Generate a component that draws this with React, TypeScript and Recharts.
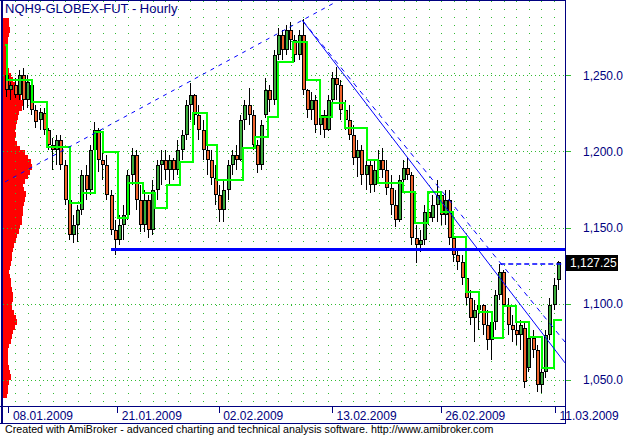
import React from 'react';
import { ComposedChart, BarChart, Bar, Line, XAxis, YAxis, CartesianGrid, ReferenceLine } from 'recharts';

const W = 626;
const H = 437;
const NAVY = '#000080';
const FONT = "'Liberation Sans', Arial, Helvetica, sans-serif";
const GRID = '#33bb33';
const UP = '#3aaa3a';
const DOWN = '#f0642d';

// ---- hourly bars (x = bar index) ----
const opens = [
  1250.25, 1240.5, 1243.75, 1237, 1250.25, 1233.75, 1243.75, 1227.25, 1220.75, 1225.25,
  1214, 1204.25, 1201, 1207.5, 1191, 1168, 1145.25, 1151.75, 1161.5, 1184.5,
  1174.75, 1201, 1214, 1194.5, 1191, 1171.5, 1148.5, 1142, 1151.75, 1158.25,
  1184.5, 1197.75, 1168, 1151.75, 1168, 1148.5, 1174.75, 1191, 1194.5, 1187.75,
  1194.5, 1187.75, 1201, 1210.75, 1230.5, 1237, 1224, 1214, 1201, 1194.5,
  1182.5, 1171.5, 1161.5, 1174.75, 1191, 1197.75, 1194.5, 1220.75, 1230.5, 1224,
  1204.25, 1191, 1224, 1240.5, 1233.75, 1263.25, 1276.5, 1266.5, 1279.75, 1273.25,
  1263.25, 1276.5, 1240.5, 1227.25, 1233.75, 1217.5, 1224, 1214, 1233.75, 1248.25,
  1243.75, 1227.25, 1220.75, 1210.75, 1195.75, 1201, 1184.5, 1191, 1178, 1187.75,
  1194.5, 1187.75, 1176, 1165, 1155, 1181.25, 1189.25, 1184.5, 1143.25, 1138.5,
  1142, 1160.25, 1156.25, 1165, 1171.5, 1158.25, 1168, 1143.25, 1132, 1127.5,
  1117, 1103.75, 1090.75, 1096, 1099.25, 1086, 1076.25, 1088, 1105.75, 1121,
  1099.25, 1086, 1082.75, 1079.5, 1084, 1057.75, 1077.5, 1069.75, 1046.75, 1055.25,
  1079.5, 1099.25, 1115.5,
];
const highs = [
  1254.75, 1245.5, 1248.25, 1253.5, 1254.75, 1250.25, 1247, 1230.5, 1228.5, 1228.5,
  1215.5, 1209, 1210.75, 1210.75, 1194.5, 1174.75, 1158.25, 1165, 1187.75, 1191,
  1204.25, 1219.5, 1215.5, 1201, 1197.75, 1174.75, 1155, 1158.25, 1165, 1187.75,
  1202.25, 1201, 1178, 1174.75, 1171.5, 1181.25, 1194.5, 1201, 1201, 1197.75,
  1195.75, 1207.5, 1214, 1233.75, 1245, 1238, 1230.5, 1220.75, 1207.5, 1201,
  1191, 1178, 1181.25, 1194.5, 1201, 1204.25, 1224, 1233.75, 1241.75, 1227.25,
  1207.5, 1220.75, 1248.25, 1243.75, 1266.5, 1281, 1279.75, 1283, 1285, 1276.5,
  1279.75, 1287, 1241, 1239, 1237, 1228.5, 1227.25, 1237, 1252.25, 1255.5,
  1247, 1233.75, 1230.5, 1217.5, 1207.5, 1204.25, 1197.75, 1194.5, 1194.5, 1201,
  1202.25, 1194.5, 1184.5, 1174.75, 1184.5, 1194.5, 1195.75, 1186.5, 1151.75, 1148.5,
  1165, 1168, 1171.5, 1181.25, 1173.5, 1174.75, 1174.75, 1151.75, 1135.25, 1132,
  1122.25, 1109, 1102.5, 1103.75, 1100, 1096, 1090.75, 1109, 1126, 1122.25,
  1103.75, 1092.5, 1089.5, 1089.5, 1088, 1082.75, 1082.75, 1073, 1059.75, 1082.75,
  1103.75, 1117, 1128,
];
const lows = [
  1235.75, 1233.75, 1235, 1233.75, 1227.25, 1228.5, 1224, 1215.5, 1214, 1210.75,
  1201, 1187.75, 1191, 1187.75, 1165, 1142, 1140, 1140.5, 1158.25, 1168,
  1171.5, 1194.5, 1186.5, 1181.25, 1168, 1145.25, 1132, 1138.5, 1142, 1155,
  1178, 1161.5, 1147, 1147, 1143.25, 1145.25, 1168, 1178, 1181.25, 1178,
  1181.25, 1184.5, 1194.5, 1207.5, 1220.75, 1217.5, 1207.5, 1194.5, 1184.5, 1178,
  1165, 1153.75, 1153.75, 1168, 1184.5, 1187.75, 1194, 1214, 1217.5, 1201,
  1186, 1187.75, 1222, 1226, 1230.5, 1260, 1260, 1263.25, 1266.5, 1258.75,
  1260, 1237, 1222, 1220.75, 1212, 1210.75, 1209, 1213.5, 1227.25, 1233.75,
  1220.75, 1214, 1207.5, 1191, 1183.25, 1178, 1174.75, 1172.75, 1173.5, 1181.25,
  1182.5, 1171.5, 1158.25, 1150.5, 1153.75, 1176, 1181.25, 1138.5, 1126.75, 1134,
  1138.5, 1151.75, 1153.75, 1153.75, 1151.75, 1151.75, 1138.5, 1127.5, 1122.25, 1112.25,
  1099.25, 1086, 1075, 1082.75, 1079.5, 1069.75, 1063, 1082.75, 1102.5, 1092.5,
  1079.5, 1075, 1073, 1069.75, 1044.75, 1055.25, 1064.5, 1042, 1041.5, 1051.25,
  1076.25, 1096, 1109,
];
const closes = [
  1240.5, 1243.75, 1237, 1250.25, 1233.75, 1245.5, 1227.25, 1219.5, 1226, 1214,
  1204.25, 1201, 1207.5, 1191, 1168, 1145.25, 1151.75, 1161.5, 1184.5, 1174.75,
  1201, 1214, 1194.5, 1191, 1171.5, 1148.5, 1142, 1151.75, 1158.25, 1184.5,
  1197.75, 1168, 1151.75, 1168, 1148.5, 1174.75, 1191, 1194.5, 1187.75, 1194.5,
  1187.75, 1201, 1210.75, 1230.5, 1237, 1224, 1214, 1201, 1194.5, 1182.5,
  1171.5, 1161.5, 1174.75, 1191, 1197.75, 1194.5, 1220.75, 1230.5, 1224, 1204.25,
  1191, 1217.5, 1240.5, 1233.75, 1263.25, 1276.5, 1266.5, 1279.75, 1273.25, 1263.25,
  1276.5, 1240.5, 1227.25, 1233.75, 1217.5, 1224, 1214, 1233.75, 1248.25, 1243.75,
  1227.25, 1220.75, 1210.75, 1195.75, 1201, 1184.5, 1191, 1178, 1187.75, 1194.5,
  1187.75, 1176, 1165, 1155, 1181.25, 1189.25, 1184.5, 1143.25, 1138.5, 1142,
  1160.25, 1156.25, 1165, 1171.5, 1158.25, 1168, 1143.25, 1132, 1127.5, 1117,
  1103.75, 1090.75, 1096, 1099.25, 1086, 1076.25, 1088, 1105.75, 1121, 1099.25,
  1086, 1082.75, 1079.5, 1086, 1048.75, 1077.5, 1069.75, 1046.75, 1055.25, 1079.5,
  1099.25, 1112.25, 1127.25,
];

// ---- axes ----
const barDomain: [number, number] = [-1, 133.5];
const priceDomain: [number, number] = [1032.9, 1298.8];
const priceTicks = [1050, 1100, 1150, 1200, 1250];
const dateTickPos = [0.3, 26.35, 50.62, 77.74, 103.75, 131.11];
const dateTickLabels = ['08.01.2009', '21.01.2009', '02.02.2009', '13.02.2009', '26.02.2009', '11.03.2009'];
const gridFirst = 1.87;
const gridEvery = 3;
const gridCount = 44;

// ---- green step level (breakpoint bar position, level) ----
const stepPos = [
  -0.52, -0.04, 5.94, 9.53, 15.03, 17.91, 21.02, 22.93, 26.52, 28.92, 32.51, 35.38, 38.25, 41.36,
  44.47, 47.82, 50.22, 56.44, 59.31, 62.42, 64.81, 68.4, 71.75, 74.87, 77.74, 80.85, 86.12, 88.75,
  94.73, 97.6, 100.71, 103.82, 106.7, 109.81, 112.92, 116.03, 118.66, 121.77, 124.89, 128.0, 130.87, 132.78,
];
const stepLevel = [
  1269.9, 1246.9, 1232.5, 1202.9, 1166.2, 1172.7, 1212.8, 1199.7, 1156.3, 1179.3, 1172.7, 1162.9, 1178.0, 1193.1,
  1225.3, 1204.3, 1181.3, 1202.3, 1209.5, 1222.6, 1258.8, 1271.9, 1246.9, 1222.6, 1231.8, 1215.4, 1194.4, 1179.3,
  1173.4, 1153.0, 1173.4, 1160.3, 1143.9, 1107.7, 1094.6, 1077.5, 1098.5, 1088.0, 1078.2, 1057.8, 1089.4, 1089.4,
];

// ---- volume at price profile (3-point bins from 1286 downward) ----
const profileTop = 1286;
const profileStep = 3;
const profileVolume = [
  60, 60, 70, 60, 50, 50, 40, 40, 50, 40,
  50, 60, 80, 100, 120, 140, 150, 180, 200, 190,
  160, 150, 140, 130, 120, 130, 120, 140, 170, 220,
  250, 280, 290, 270, 250, 220, 200, 210, 230, 220,
  210, 200, 200, 190, 190, 170, 160, 140, 130, 110,
  100, 90, 90, 80, 70, 60, 70, 80, 80, 90,
  100, 100, 90, 90, 110, 130, 140, 120, 100, 90,
  80, 60, 50, 50, 50, 50, 60, 70, 80, 60,
  50, 50, 40,
];
const profileMax = 5620;

// ---- trend lines ----
const risingRay = [{ x: -0.52, y: 1180.0 }, { x: 78.9, y: 1298.5 }];
const fallingLine = [{ x: 70.57, y: 1286.3 }, { x: 133.5, y: 1061.2 }];
const fallingDashed = [{ x: 70.8, y: 1285.6 }, { x: 133.5, y: 1074.9 }];
const supportLine = [{ x: 24.85, y: 1135.7 }, { x: 133.5, y: 1135.7 }];
const resistDashed = [{ x: 118, y: 1126.1 }, { x: 132.6, y: 1126.1 }];
const lastClose = 1127.25;

const candles = opens.map((o, i) => ({ i, o, h: highs[i], l: lows[i], c: closes[i] }));
const stepData = stepPos.map((i, k) => ({ i, g: stepLevel[k] }));
const profileData = profileVolume.map((v, k) => ({ p: profileTop - k * profileStep, v }));
const gridDays: number[] = [];
for (let k = 0; k < gridCount; k++) gridDays.push(gridFirst + k * gridEvery);

const withCommas = (s: string) => s.replace(/\B(?=(\d{3})+(?!\d))/g, ',');
const fmtPrice = (v: number, d: number) => {
  const [a, b] = v.toFixed(d).split('.');
  return withCommas(a) + '.' + b;
};

const Candle = (props: any) => {
  const { x, y, width, height, payload } = props;
  if (x == null || y == null || !payload) return null;
  const { o, h, l, c } = payload;
  const top = Math.min(y, y + height);
  const bottom = Math.max(y, y + height);
  const k = h > l ? (bottom - top) / (h - l) : 0;
  const oy = top + (h - o) * k;
  const cy = top + (h - c) * k;
  const cx = Math.round(x + width / 2);
  const bt = Math.round(Math.min(oy, cy));
  const bb = Math.max(bt + 2, Math.round(Math.max(oy, cy)));
  const up = c >= o;
  const wt = Math.round(top);
  const wb = Math.max(wt + 1, Math.round(bottom));
  return (
    <g>
      <rect x={cx - 1} y={wt} width={1} height={wb - wt} fill="#000" />
      <rect x={cx - 2} y={bt} width={4} height={bb - bt} fill="#000" />
      {bb - bt > 2 && <rect x={cx - 1} y={bt + 1} width={2} height={bb - bt - 2} fill={up ? UP : DOWN} />}
    </g>
  );
};

const ProfileBar = (props: any) => {
  const { x, y, width, height } = props;
  if (x == null || y == null || !width) return null;
  const top = Math.floor(Math.min(y, y + height));
  const h = Math.ceil(Math.abs(height)) + 1;
  return <rect x={Math.floor(x)} y={top} width={Math.max(0, Math.round(width))} height={h} fill="#ff0000" />;
};

const XTick = (props: any) => {
  const { x, y, payload } = props;
  const k = dateTickPos.findIndex((v) => Math.abs(v - payload.value) < 1e-6);
  const lx = Math.round(x) + 0.5;
  return (
    <g>
      <line x1={lx} x2={lx} y1={y + 1} y2={y + 7} stroke={NAVY} strokeWidth={1} />
      <text x={x + 4.5} y={y + 14} fill={NAVY} fontSize={12} fontFamily={FONT}>
        {k >= 0 ? dateTickLabels[k] : ''}
      </text>
    </g>
  );
};

const YTick = (props: any) => {
  const { x, y, payload } = props;
  const ly = Math.round(y) + 0.5;
  return (
    <g>
      <line x1={x} x2={x + 6} y1={ly} y2={ly} stroke={GRID} strokeWidth={1} />
      <text x={x + 18} y={y + 4.5} fill={NAVY} fontSize={12} fontFamily={FONT}>
        {fmtPrice(payload.value, 1)}
      </text>
    </g>
  );
};

const LastLabel = (props: any) => {
  const vb = props.viewBox || {};
  const x = (vb.x || 0) + (vb.width || 0) + 1;
  const y = vb.y || 0;
  return (
    <g>
      <rect x={x} y={Math.round(y) - 7} width={52} height={16} fill="#000" />
      <text x={x + 4} y={y + 4.5} fill="#fff" fontSize={12} fontFamily={FONT}>
        {fmtPrice(lastClose, 2)}
      </text>
    </g>
  );
};

const vGen = (args: any) => {
  const sc = args?.xAxis?.scale;
  if (typeof sc === 'function') return gridDays.map((v) => Math.round(sc(v)) + 0.5);
  const off = args.offset;
  return gridDays.map(
    (v) => Math.round(off.left + ((v - barDomain[0]) / (barDomain[1] - barDomain[0])) * off.width) + 0.5
  );
};
const hGen = (args: any) => {
  const sc = args?.yAxis?.scale;
  if (typeof sc === 'function') return priceTicks.map((v) => Math.round(sc(v)) + 0.5);
  const off = args.offset;
  return priceTicks.map(
    (v) => Math.round(off.top + ((priceDomain[1] - v) / (priceDomain[1] - priceDomain[0])) * off.height) + 0.5
  );
};

const frameLines = [
  { left: 0, top: 0, width: 566, height: 1 },
  { left: 1, top: 0, width: 2, height: 424 },
  { left: 565, top: 0, width: 1, height: 424 },
  { left: 0, top: 406, width: 566, height: 1 },
  { left: 0, top: 423, width: 566, height: 1 },
];

export default function App() {
  return (
    <div style={{ position: 'absolute', left: 0, top: 0, width: W, height: H, background: '#fff', overflow: 'hidden' }}>
      <div style={{ position: 'absolute', left: 0, top: 0 }}>
        <BarChart
          layout="vertical"
          width={W}
          height={H}
          data={profileData}
          margin={{ top: 1, right: 61, bottom: 31, left: 3 }}
          barCategoryGap={0}
        >
          <XAxis type="number" hide domain={[0, profileMax]} allowDataOverflow />
          <YAxis type="number" dataKey="p" hide domain={priceDomain} allowDataOverflow reversed />
          <Bar dataKey="v" fill="#ff0000" barSize={5} shape={(p: any) => <ProfileBar {...p} />} isAnimationActive={false} />
        </BarChart>
      </div>
      <div style={{ position: 'absolute', left: 0, top: 0 }}>
        <ComposedChart width={W} height={H} data={candles} margin={{ top: 1, right: 0, bottom: 13, left: 3 }}>
          <CartesianGrid vertical horizontal={false} stroke={GRID} strokeDasharray="1 7" verticalCoordinatesGenerator={vGen} />
          <CartesianGrid vertical={false} horizontal stroke={GRID} strokeDasharray="1 3" horizontalCoordinatesGenerator={hGen} />
          <XAxis
            dataKey="i"
            type="number"
            domain={barDomain}
            allowDataOverflow
            ticks={dateTickPos}
            interval={0}
            height={18}
            tickSize={0}
            tickMargin={0}
            axisLine={false}
            tickLine={false}
            tick={(p: any) => <XTick {...p} />}
          />
          <YAxis
            orientation="right"
            type="number"
            domain={priceDomain}
            allowDataOverflow
            ticks={priceTicks}
            interval={0}
            width={61}
            tickSize={0}
            tickMargin={0}
            axisLine={false}
            tickLine={false}
            tick={(p: any) => <YTick {...p} />}
          />
          <Line
            data={stepData}
            dataKey="g"
            type="stepAfter"
            stroke="#00ff00"
            strokeWidth={2}
            dot={false}
            activeDot={false}
            isAnimationActive={false}
          />
          <Bar dataKey={(d: any) => [d.l, d.h]} shape={(p: any) => <Candle {...p} />} barSize={4} isAnimationActive={false} />
          <ReferenceLine segment={risingRay} stroke="#0000ff" strokeWidth={1} strokeDasharray="4 5" ifOverflow="visible" />
          <ReferenceLine segment={fallingLine} stroke="#0000ff" strokeWidth={1} ifOverflow="visible" />
          <ReferenceLine segment={fallingDashed} stroke="#0000ff" strokeWidth={1} strokeDasharray="5 5" ifOverflow="visible" />
          <ReferenceLine segment={supportLine} stroke="#0000ff" strokeWidth={3} ifOverflow="visible" />
          <ReferenceLine segment={resistDashed} stroke="#0000ff" strokeWidth={1.5} strokeDasharray="5 3" ifOverflow="visible" />
          <ReferenceLine y={lastClose} stroke="none" ifOverflow="visible" label={{ content: (p: any) => <LastLabel {...p} /> }} />
        </ComposedChart>
      </div>
      {frameLines.map((f, k) => (
        <div key={k} style={{ position: 'absolute', background: NAVY, ...f }} />
      ))}
      <div
        style={{
          position: 'absolute',
          left: 5,
          top: 1,
          fontFamily: FONT,
          fontSize: 13,
          lineHeight: '15px',
          color: NAVY,
          whiteSpace: 'nowrap',
        }}
      >
        NQH9-GLOBEX-FUT - Hourly
      </div>
      <div
        style={{
          position: 'absolute',
          left: 5,
          top: 423,
          fontFamily: FONT,
          fontSize: 10.7,
          lineHeight: '13px',
          color: '#000',
          whiteSpace: 'nowrap',
        }}
      >
        Created with AmiBroker - advanced charting and technical analysis software. http://www.amibroker.com
      </div>
    </div>
  );
}
